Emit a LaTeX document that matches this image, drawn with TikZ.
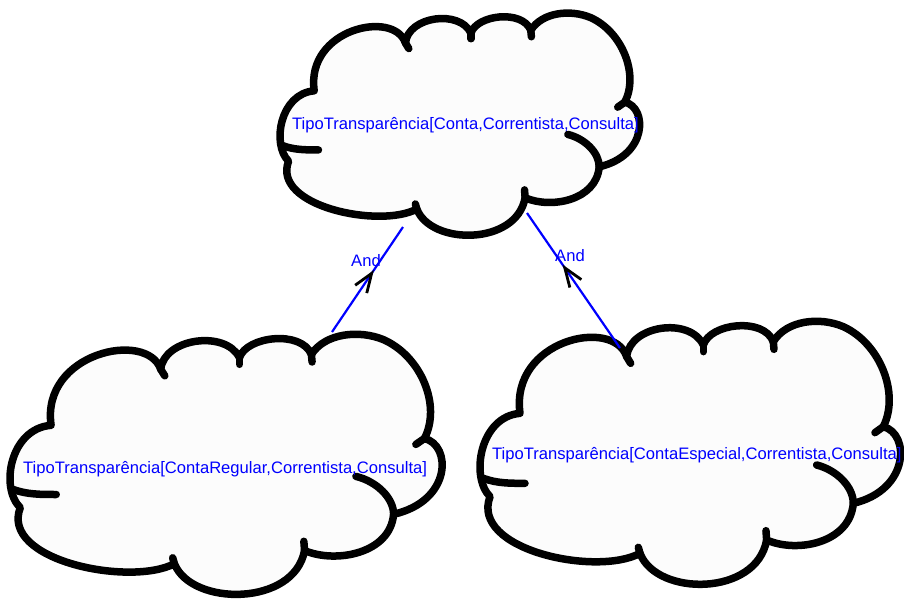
\documentclass[tikz,border=0pt]{standalone}
\usepackage{fontspec}
\setmainfont{Liberation Sans}
\usetikzlibrary{arrows.meta,decorations.markings}

\definecolor{cloudfill}{HTML}{FCFCFC}
\definecolor{labelblue}{RGB}{0,0,255}
\newcommand\diagfont{\fontsize{16.6}{19}\selectfont}

% Cloud outline in its own unit box; #1,#2 = offset, #3,#4 = scale
\newcommand\drawcloud[4]{%
  \begin{scope}[shift={(#1,#2)}, x=#3pt, y=-#4pt]
    \draw[cloudline, fill=cloudfill]
      (150,310) .. controls (120,90) and (430,20) .. (470,140)
      .. controls (480,45) and (660,20) .. (700,105)
      .. controls (720,40) and (880,20) .. (910,95)
      .. controls (950,30) and (1050,20) .. (1120,50)
      .. controls (1230,100) and (1290,250) .. (1240,350)
      .. controls (1320,370) and (1320,540) .. (1150,580)
      .. controls (1140,700) and (980,730) .. (890,690)
      .. controls (860,860) and (560,860) .. (510,730)
      .. controls (380,800) and (0,720) .. (60,560)
      .. controls (0,500) and (30,320) .. cycle;
    % inner strokes where the puffs overlap
    \draw[cloudline] (40,505) .. controls (80,520) and (120,520) .. (165,520);
    \draw[cloudline] (470,140) -- (482,160);
    \draw[cloudline] (700,105) -- (700,125);
    \draw[cloudline] (910,95) -- (912,118);
    \draw[cloudline] (1240,350) -- (1215,368);
    \draw[cloudline] (1040,465) .. controls (1100,480) and (1150,530) .. (1150,580);
    \draw[cloudline] (890,690) -- (888,662);
    \draw[cloudline] (510,730) -- (505,712);
  \end{scope}}

\tikzset{
  cloudline/.style={line width=7.5pt, line join=round, line cap=round, draw=black},
  cloudtext/.style={text=labelblue, font=\diagfont, inner sep=0pt, anchor=base west},
  andlabel/.style={text=labelblue, font=\diagfont, inner sep=0pt},
  connector/.style={draw=labelblue, line width=2.2pt},
  midbarb/.style={postaction={decorate, decoration={markings,
    mark=at position #1 with {\arrow{Straight Barb[color=black, length=19pt, width=14pt, line width=2.8pt]}}}}},
}

\begin{document}
\begin{tikzpicture}[x=1pt, y=-1pt]
  \fill[white] (0,0) rectangle (904,600);
  \useasboundingbox (0,0) rectangle (904,600);

  % the three clouds
  \drawcloud{271.45}{3.55}{0.285}{0.2815}
  \drawcloud{-0.28}{323.1}{0.3425}{0.3296}
  \drawcloud{470}{310}{0.3333}{0.3333}

  % labels inside the clouds
  \node[cloudtext] (general) at (292,129) {TipoTransparência[Conta,Correntista,Consulta]};
  \node[cloudtext] (regular) at (23,473) {TipoTransparência[ContaRegular,Correntista,Consulta]};
  \node[cloudtext] (especial) at (492,459) {TipoTransparência[ContaEspecial,Correntista,Consulta]};

  % connector ends on the cloud outlines
  \coordinate (general-left)  at (403,227);
  \coordinate (general-right) at (527,213);
  \coordinate (regular-top)   at (332,332);
  \coordinate (especial-top)  at (620,348);

  % connectors
  \draw[connector, midbarb=0.59] (regular-top) -- (general-left);
  \draw[connector, midbarb=0.618] (especial-top) -- (general-right);

  \node[andlabel] (and-left)  at (366,261) {And};
  \node[andlabel] (and-right) at (570,256) {And};
\end{tikzpicture}
\end{document}
